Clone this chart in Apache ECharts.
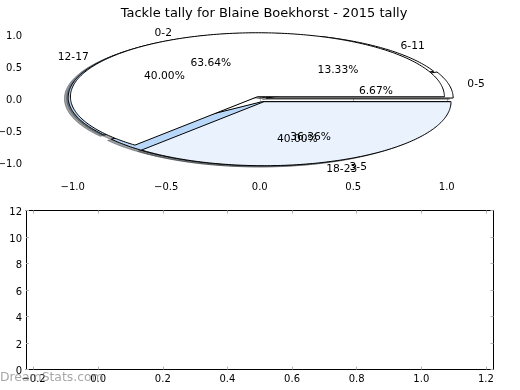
<!DOCTYPE html>
<html>
<head>
<meta charset="utf-8">
<script src="https://cdn.jsdelivr.net/npm/echarts@6/dist/echarts.min.js"></script>
<style>html,body{margin:0;padding:0;background:#fff}#c{width:520px;height:390px}</style>
</head>
<body>
<div id="c"></div>
<script>
// ---- data ----
const titleText = 'Tackle tally for Blaine Boekhorst - 2015 tally';
const sliceLabelsA = ['0-5', '6-11', '12-17', '18-23'];
const sliceValuesA = [1, 2, 6, 6];
const sliceLabelsB = ['0-2', '3-5'];
const sliceValuesB = [7, 4];
const pieTicks = [-1, -0.5, 0, 0.5, 1];
const barXTicks = [-0.2, 0, 0.2, 0.4, 0.6, 0.8, 1.0, 1.2];
const barYTicks = [0, 2, 4, 6, 8, 10, 12];

// ---- styles ----
const styleA = { explode: [0.035, 0.025, 0.03, 0.05], colors: ['#ffffff', '#ffffff', '#b9d7f9', '#b9d7f9'] };
const styleB = { explode: [0.03, 0.055], colors: ['#ffffff', '#eaf2fd'] };
const FONT = '"DejaVu Sans", "Liberation Sans", sans-serif';

function buildWedges(labels, values, st, pie) {
  const total = values.reduce((a, b) => a + b, 0);
  let cum = 0;
  return values.map((v, i) => {
    const t1 = 360 * cum / total;
    cum += v;
    const t2 = 360 * cum / total;
    const mid = (t1 + t2) / 2 * Math.PI / 180;
    const e = st.explode[i];
    return {
      pie, t1, t2, mid,
      cx: e * Math.cos(mid), cy: e * Math.sin(mid),
      color: st.colors[i], label: labels[i],
      pct: (100 * v / total).toFixed(2) + '%'
    };
  });
}
const wedgesA = buildWedges(sliceLabelsA, sliceValuesA, styleA, 0);
const wedgesB = buildWedges(sliceLabelsB, sliceValuesB, styleB, 1);
const allWedges = wedgesA.concat(wedgesB);

function wedgePoints(api, w, dx, dy) {
  const pts = [api.coord([w.cx + dx, w.cy + dy])];
  const n = Math.max(8, Math.ceil((w.t2 - w.t1) / 1));
  for (let k = 0; k <= n; k++) {
    const a = (w.t1 + (w.t2 - w.t1) * k / n) * Math.PI / 180;
    pts.push(api.coord([w.cx + dx + Math.cos(a), w.cy + dy + Math.sin(a)]));
  }
  return pts;
}
function shadowColor(hex) {
  const r = parseInt(hex.slice(1, 3), 16), g = parseInt(hex.slice(3, 5), 16), b = parseInt(hex.slice(5, 7), 16);
  return 'rgb(' + Math.round(r * 0.3) + ',' + Math.round(g * 0.3) + ',' + Math.round(b * 0.3) + ')';
}

function wedgeSeries(list, z, isShadow) {
  return {
    type: 'custom', xAxisIndex: 0, yAxisIndex: 0, z: z, silent: true, clip: false,
    data: list.map(w => [w.cx, w.cy]),
    renderItem: function (params, api) {
      const w = list[params.dataIndex];
      if (isShadow) {
        const c = shadowColor(w.color);
        return { type: 'polygon', shape: { points: wedgePoints(api, w, -0.02, -0.02) },
          style: { fill: c, stroke: c, lineWidth: 1, opacity: 0.5 } };
      }
      return { type: 'polygon', shape: { points: wedgePoints(api, w, 0, 0) },
        style: { fill: w.color, stroke: '#000', lineWidth: 1 } };
    }
  };
}

const labelSeries = {
  type: 'custom', xAxisIndex: 0, yAxisIndex: 0, z: 10, silent: true, clip: false,
  data: allWedges.map(w => [w.cx, w.cy]),
  renderItem: function (params, api) {
    const w = allWedges[params.dataIndex];
    const lx = w.cx + 1.1 * Math.cos(w.mid), ly = w.cy + 1.1 * Math.sin(w.mid);
    const px = w.cx + 0.6 * Math.cos(w.mid), py = w.cy + 0.6 * Math.sin(w.mid);
    const p1 = api.coord([lx, ly]), p2 = api.coord([px, py]);
    return { type: 'group', children: [
      { type: 'text', x: p1[0], y: p1[1] + 1, style: { text: w.label, fill: '#000', font: '10.7px ' + FONT,
        align: lx > 0 ? 'left' : 'right', verticalAlign: 'middle' } },
      { type: 'text', x: p2[0], y: p2[1] + 1, style: { text: w.pct, fill: '#000', font: '10.7px ' + FONT,
        align: 'center', verticalAlign: 'middle' } }
    ] };
  }
};

const fmt = v => {
  const s = Math.abs(v) < 1e-9 ? '0.0' : Math.abs(v).toFixed(1);
  return (v < -1e-9 ? '\u2212' : '') + s;
};
const tickGray = { color: '#b0b0b0', width: 1 };
const lbl = { color: '#000', fontSize: 10, fontFamily: FONT };
const ylbl = Object.assign({ rich: { v: { color: '#000', fontSize: 10, fontFamily: FONT, padding: [4, 0, 0, 0] } } }, lbl);
const yfmt = f => (v => '{v|' + f(v) + '}');

function axis(kind, grid, pos, min, max, ticks, opts) {
  return Object.assign({
    type: 'value', gridIndex: grid, position: pos, min: min, max: max,
    splitLine: { show: false },
    axisLine: { show: false },
    axisTick: { show: true, inside: true, length: 3, lineStyle: tickGray, customValues: ticks },
    axisLabel: { show: false, customValues: ticks }
  }, opts || {});
}
const frameLine = { show: true, onZero: false, lineStyle: { color: '#000', width: 1 } };

const chart = echarts.init(document.getElementById('c'), null, { renderer: 'canvas' });
chart.setOption({
  animation: false,
  backgroundColor: '#fff',
  title: { text: titleText, left: 259, textAlign: 'center', top: 2,
    textStyle: { fontSize: 13, fontWeight: 'normal', fontFamily: FONT, color: '#000' } },
  grid: [
    { left: 26, width: 467.5, top: 18.5, height: 160, outerBoundsMode: 'none', containLabel: false },
    { left: 26, width: 467.5, top: 210.5, height: 159, outerBoundsMode: 'none', containLabel: false }
  ],
  xAxis: [
    axis('x', 0, 'bottom', -1.25, 1.25, pieTicks, { axisLabel: Object.assign({ show: true, customValues: pieTicks, margin: 4, formatter: fmt }, lbl) }),
    axis('x', 0, 'top', -1.25, 1.25, pieTicks),
    axis('x', 1, 'bottom', -0.2235, 1.2235, barXTicks, { axisLine: frameLine, axisLabel: Object.assign({ show: true, customValues: barXTicks, margin: 5, formatter: fmt }, lbl) }),
    axis('x', 1, 'top', -0.2235, 1.2235, barXTicks, { axisLine: frameLine })
  ],
  yAxis: [
    axis('y', 0, 'left', -1.25, 1.25, pieTicks, { axisLabel: Object.assign({ show: true, customValues: pieTicks, margin: 4, formatter: yfmt(fmt) }, ylbl) }),
    axis('y', 0, 'right', -1.25, 1.25, pieTicks),
    axis('y', 1, 'left', 0, 12, barYTicks, { axisLine: frameLine, axisLabel: Object.assign({ show: true, customValues: barYTicks, margin: 4, formatter: yfmt(v => String(Math.round(v))) }, ylbl) }),
    axis('y', 1, 'right', 0, 12, barYTicks, { axisLine: frameLine })
  ],
  graphic: [
    { type: 'text', left: 0, top: 372, z: 100, silent: true,
      style: { text: 'DreamStats.com', fill: 'rgba(130,130,130,0.7)', font: '12.4px ' + FONT } }
  ],
  series: [
    wedgeSeries(allWedges, 1, true),
    wedgeSeries(wedgesA, 2, false),
    wedgeSeries(wedgesB, 3, false),
    labelSeries,
    { type: 'line', xAxisIndex: 2, yAxisIndex: 2, data: [], silent: true }
  ]
});
</script>
</body>
</html>
